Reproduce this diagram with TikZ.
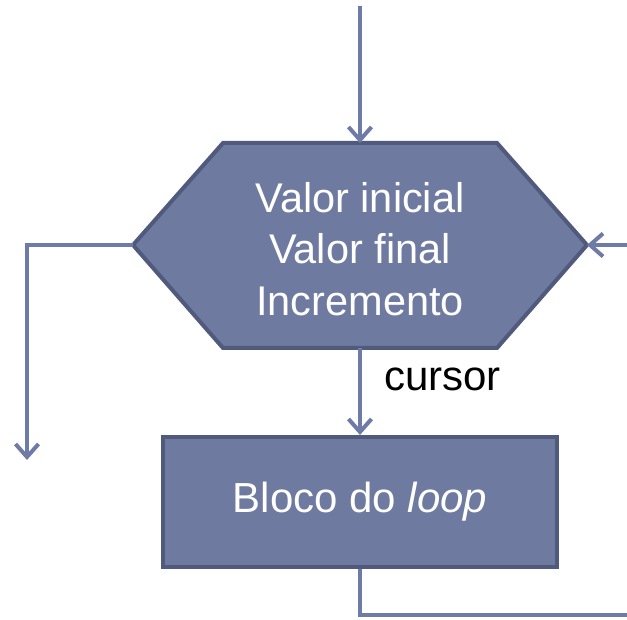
\documentclass[tikz,border=0pt]{standalone}
\usepackage{fontspec}
\setmainfont{Liberation Sans}
\usetikzlibrary{arrows.meta}
\definecolor{boxfill}{HTML}{6F7AA0}
\definecolor{boxline}{HTML}{4F5A7D}
\definecolor{linkc}{HTML}{6E7BA6}
\begin{document}
\begin{tikzpicture}[x=1pt,y=-1pt,
  link/.style={draw=linkc, line width=4pt, -{Straight Barb[length=13pt,width=23pt,line width=4pt]}},
  plain/.style={draw=linkc, line width=4pt},
  shapebox/.style={fill=boxfill, draw=boxline, line width=4pt, line join=miter},
  txt/.style={text=white, font=\fontsize{41.5}{51.5}\selectfont, align=center}]
\useasboundingbox (0,0) rectangle (627,620);
% hexagon corners
\coordinate (hN) at (360,143);
\coordinate (hS) at (360,348);
\coordinate (hW) at (133,245);
\coordinate (hE) at (587,245);
\draw[shapebox] (223,143) -- (497,143) -- (hE) -- (497,348) -- (223,348) -- (hW) -- cycle;
\node[txt] (hex) at (360,249) {Valor inicial\\Valor final\\Incremento};
% loop block
\node[shapebox, minimum width=394pt, minimum height=130pt, inner sep=0pt,
      text=white, font=\fontsize{42}{48}\selectfont] (loop) at (360,502) {\raisebox{-4pt}{Bloco do \textit{loop}}};
% label
\node[anchor=base west, inner sep=0pt, font=\fontsize{42}{48}\selectfont] (cur) at (384,391) {cursor};
% free ends
\coordinate (top) at (360,6);
\coordinate (inR) at (627,245);
\coordinate (outL) at (27,460);
\coordinate (outR) at (627,615);
% connectors
\draw[link] (top) -- (hN);
\draw[link] (inR) -- (hE);
\draw[link] (hW) -| (outL);
\draw[link] (hS) -- (loop.north);
\draw[plain] (loop.south) |- (outR);
\end{tikzpicture}
\end{document}
